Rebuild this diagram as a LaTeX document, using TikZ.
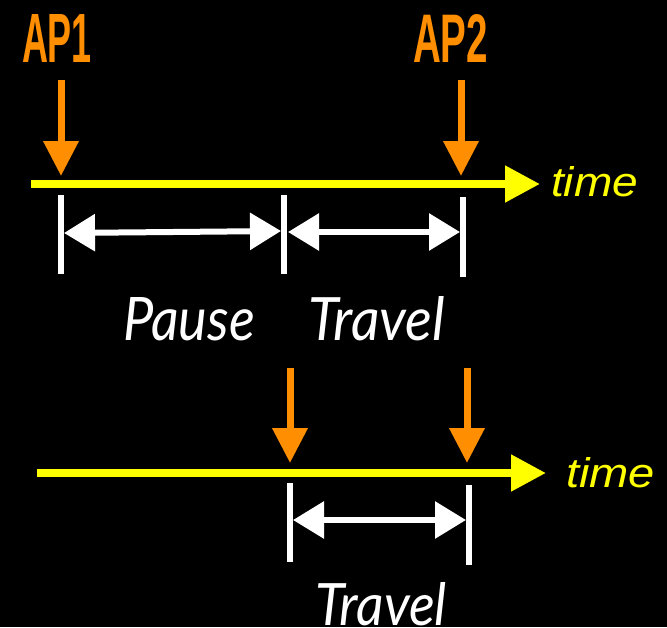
\documentclass[tikz,border=0pt]{standalone}
\usepackage{fontspec}
\setmainfont{Liberation Sans}
\newfontfamily\labfont{Lato}
\usetikzlibrary{arrows.meta}
\definecolor{aporange}{HTML}{FF8F00}
\definecolor{tyellow}{HTML}{FFFF00}
\tikzset{
  orangearrow/.style={draw=aporange,line width=7pt,-{Triangle[width=34pt,length=35pt]},fill=aporange},
  timearrow/.style={draw=tyellow,line width=8pt,-{Triangle[width=35pt,length=35pt]},fill=tyellow},
  bar/.style={draw=white,line width=6pt},
  span/.style={draw=white,line width=6pt,{Triangle[width=36pt,length=31pt]}-{Triangle[width=36pt,length=31pt]},fill=white},
  txt/.style={inner sep=0pt,outer sep=0pt,anchor=base west},
}
\begin{document}
\begin{tikzpicture}[x=1pt,y=-1pt]
\fill[black] (0,0) rectangle (667,627);
\useasboundingbox (0,0) rectangle (667,627);
% labels
\node[txt,text=aporange] (ap1) at (22,62) {\resizebox{70pt}{48pt}{\bfseries AP1}};
\node[txt,text=aporange] (ap2) at (413,62) {\resizebox{75pt}{48pt}{\bfseries AP2}};
% top timeline
\coordinate (t1s) at (31,184);
\coordinate (t1e) at (540,184);
\draw[timearrow] (t1s) -- (t1e);
\node[txt,text=tyellow] (time1) at (551,196) {\resizebox{87pt}{30pt}{\itshape time}};
\coordinate (a1s) at (61,80); \coordinate (a1e) at (61,176);
\coordinate (a2s) at (461,80); \coordinate (a2e) at (461,176);
\draw[orangearrow] (a1s) -- (a1e);
\draw[orangearrow] (a2s) -- (a2e);
% top bars
\coordinate (b1t) at (61,195); \coordinate (b1b) at (61,274);
\coordinate (b2t) at (284,195); \coordinate (b2b) at (284,274);
\coordinate (b3t) at (463,197); \coordinate (b3b) at (463,277);
\draw[bar] (b1t) -- (b1b);
\draw[bar] (b2t) -- (b2b);
\draw[bar] (b3t) -- (b3b);
\coordinate (s1l) at (64,233); \coordinate (s1r) at (281,231);
\coordinate (s2l) at (288,232); \coordinate (s2r) at (460,232);
\draw[span] (s1l) -- (s1r);
\draw[span] (s2l) -- (s2r);
\node[txt,text=white] (pause) at (123,340) {\resizebox{132pt}{43pt}{\labfont\itshape Pause}};
\node[txt,text=white] (travel1) at (308,340) {\resizebox{137pt}{44pt}{\labfont\itshape Travel}};
% bottom timeline
\coordinate (t2s) at (37,473);
\coordinate (t2e) at (546,473);
\draw[timearrow] (t2s) -- (t2e);
\node[txt,text=tyellow] (time2) at (566,487) {\resizebox{89pt}{30pt}{\itshape time}};
\coordinate (a3s) at (290,368); \coordinate (a3e) at (290,463);
\coordinate (a4s) at (467,368); \coordinate (a4e) at (467,463);
\draw[orangearrow] (a3s) -- (a3e);
\draw[orangearrow] (a4s) -- (a4e);
\coordinate (b4t) at (290,483); \coordinate (b4b) at (290,562);
\coordinate (b5t) at (469,485); \coordinate (b5b) at (469,565);
\draw[bar] (b4t) -- (b4b);
\draw[bar] (b5t) -- (b5b);
\coordinate (s3l) at (293,520); \coordinate (s3r) at (466,520);
\draw[span] (s3l) -- (s3r);
\node[txt,text=white] (travel2) at (315,625) {\resizebox{132pt}{43pt}{\labfont\itshape Travel}};
\end{tikzpicture}
\end{document}
